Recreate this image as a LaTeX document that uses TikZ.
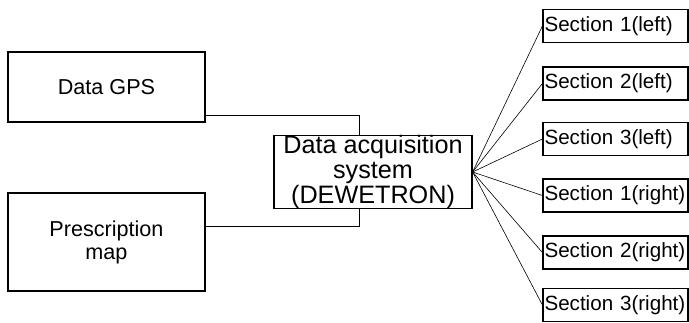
\documentclass[tikz,border=0pt]{standalone}
\usepackage{fontspec}
\setmainfont{Liberation Sans}
\usepackage{tikz}
\usetikzlibrary{positioning,calc}

\begin{document}
\begin{tikzpicture}[x=0.5pt, y=-0.5pt,
  src/.style={rectangle, draw, line width=0.6pt, minimum width=98.5pt,
              inner sep=0pt, align=center, font=\fontsize{10.8}{11.5}\selectfont},
  daq/.style={rectangle, draw, line width=0.6pt, minimum width=99pt,
              minimum height=36pt, inner sep=0pt, align=center,
              font=\fontsize{12.6}{12.3}\selectfont},
  sec/.style={rectangle, draw, line width=0.6pt, minimum width=72.5pt,
              minimum height=16.5pt, inner xsep=0.75pt, inner ysep=0pt,
              text width=71pt, align=left, font=\fontsize{10.3}{12}\selectfont},
  wire/.style={line width=0.3pt},
]
  \useasboundingbox (0,0) rectangle (689,322);
  % inputs
  \node[src, minimum height=35pt] (gps) at (106.5,87) {Data GPS};
  \node[src, minimum height=49pt] (presc) at (106.5,242) {Prescription\\map};
  % logger
  \node[daq] (logger) at (373,172) {Data acquisition\\system\\(DEWETRON)};
  % boom sections
  \node[sec] (s1l) at (615.5,26)  {Section 1(left)};
  \node[sec] (s2l) at (615.5,83.5) {Section 2(left)};
  \node[sec] (s3l) at (615.5,139) {Section 3(left)};
  \node[sec] (s1r) at (615.5,195.5) {Section 1(right)};
  \node[sec] (s2r) at (615.5,252.5) {Section 2(right)};
  \node[sec] (s3r) at (615.5,305) {Section 3(right)};
  \draw[wire] ([yshift=3.5pt]gps.south east) -| ([xshift=-7pt]logger.north);
  \draw[wire] ([yshift=-17pt]presc.north east) -| ([xshift=-7pt]logger.south);
  \draw[wire] (logger.east) -- (s1l.west);
  \draw[wire] (logger.east) -- (s2l.west);
  \draw[wire] (logger.east) -- (s3l.west);
  \draw[wire] (logger.east) -- (s1r.west);
  \draw[wire] (logger.east) -- (s2r.west);
  \draw[wire] (logger.east) -- (s3r.west);
\end{tikzpicture}
\end{document}
